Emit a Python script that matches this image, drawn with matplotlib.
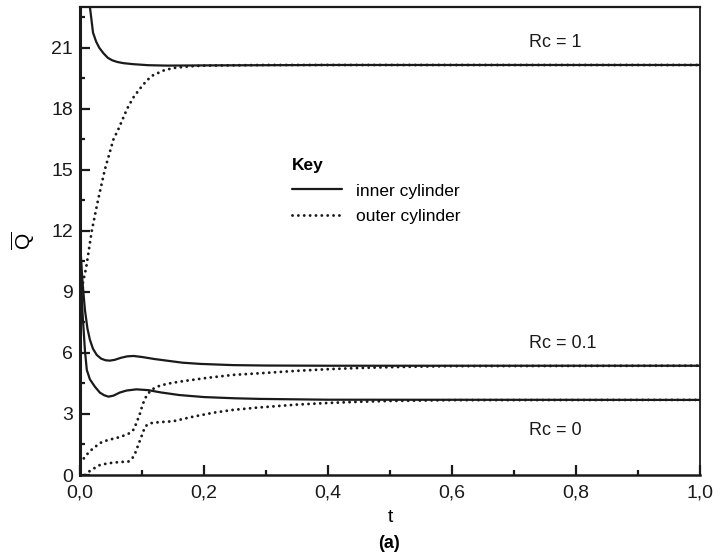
import matplotlib
matplotlib.use("Agg")
import matplotlib.pyplot as plt
from matplotlib.ticker import MultipleLocator, FuncFormatter

plt.rcParams['font.family'] = ['Liberation Sans', 'DejaVu Sans']
plt.rcParams['mathtext.fontset'] = 'custom'
plt.rcParams['mathtext.rm'] = 'Liberation Sans'

# Rc = 1
t_rc1_inner = [0.012, 0.016, 0.021, 0.026, 0.031, 0.038, 0.045, 0.052, 0.06, 0.07, 0.086, 0.11, 0.14, 0.2, 0.4, 1.0]
q_rc1_inner = [24.0, 23.0, 21.74, 21.3, 21.0, 20.72, 20.5, 20.38, 20.3, 20.24, 20.19, 20.14, 20.12, 20.13, 20.15, 20.15]
t_rc1_outer = [0.0, 0.005, 0.010, 0.019, 0.029, 0.040, 0.054, 0.062, 0.076, 0.086, 0.097, 0.108, 0.118, 0.135, 0.15, 0.175, 0.2, 0.3, 1.0]
q_rc1_outer = [8.6, 9.5, 10.2, 12.0, 13.5, 15.0, 16.5, 17.0, 18.0, 18.55, 19.0, 19.4, 19.65, 19.88, 20.0, 20.08, 20.12, 20.15, 20.15]

# Rc = 0.1
t_rc01_inner = [0.0, 0.004, 0.008, 0.012, 0.016, 0.021, 0.027, 0.034, 0.041, 0.048, 0.056, 0.066, 0.076, 0.086, 0.10, 0.12, 0.14, 0.165, 0.194, 0.247, 0.3, 0.4, 1.0]
q_rc01_inner = [11.5, 9.5, 8.1, 7.2, 6.64, 6.2, 5.9, 5.72, 5.64, 5.62, 5.66, 5.76, 5.83, 5.85, 5.8, 5.7, 5.62, 5.52, 5.46, 5.40, 5.38, 5.37, 5.37]
t_rc01_outer = [0.0, 0.003, 0.015, 0.032, 0.045, 0.059, 0.072, 0.081, 0.087, 0.091, 0.096, 0.1, 0.104, 0.108, 0.115, 0.124, 0.14, 0.161, 0.204, 0.247, 0.29, 0.35, 0.4, 0.45, 0.5, 0.55, 0.6, 1.0]
q_rc01_outer = [0.6, 0.7, 1.15, 1.57, 1.72, 1.82, 1.95, 2.07, 2.25, 2.56, 2.95, 3.36, 3.7, 3.93, 4.18, 4.34, 4.48, 4.59, 4.77, 4.92, 5.0, 5.12, 5.2, 5.26, 5.3, 5.33, 5.35, 5.37]

# Rc = 0
t_rc0_inner = [0.0, 0.004, 0.008, 0.011, 0.016, 0.024, 0.032, 0.039, 0.046, 0.054, 0.064, 0.075, 0.091, 0.11, 0.13, 0.16, 0.2, 0.25, 0.29, 0.4, 1.0]
q_rc0_inner = [11.0, 8.0, 6.1, 5.16, 4.7, 4.34, 4.05, 3.92, 3.85, 3.9, 4.05, 4.15, 4.21, 4.17, 4.06, 3.93, 3.83, 3.77, 3.74, 3.7, 3.69]
t_rc0_outer = [0.008, 0.015, 0.025, 0.032, 0.043, 0.054, 0.066, 0.078, 0.084, 0.089, 0.093, 0.097, 0.101, 0.105, 0.111, 0.118, 0.13, 0.15, 0.183, 0.215, 0.247, 0.285, 0.35, 0.4, 0.45, 0.5, 0.55, 0.6, 1.0]
q_rc0_outer = [0.0, 0.18, 0.37, 0.49, 0.56, 0.61, 0.64, 0.66, 0.8, 1.07, 1.4, 1.72, 2.05, 2.38, 2.52, 2.57, 2.6, 2.64, 2.87, 3.06, 3.2, 3.31, 3.46, 3.54, 3.6, 3.64, 3.66, 3.68, 3.69]

curve_labels = ['Rc = 1', 'Rc = 0.1', 'Rc = 0']
label_q = [21.25, 6.44, 2.21]
label_t = 0.724

fig = plt.figure(figsize=(7.22, 5.58), dpi=100)
ax = fig.add_axes([80 / 722, 1 - 475 / 558, 620 / 722, 468 / 558])

ink = '#1a1a1a'
solid = dict(color=ink, lw=1.6, solid_capstyle='round')
dotted = dict(color=ink, lw=2.1, linestyle=(0, (0.01, 2.0)), dash_capstyle='round')

ax.plot(t_rc1_inner, q_rc1_inner, label='inner cylinder', **solid)
ax.plot(t_rc1_outer, q_rc1_outer, label='outer cylinder', **dotted)
ax.plot(t_rc01_inner, q_rc01_inner, **solid)
ax.plot(t_rc01_outer, q_rc01_outer, **dotted)
ax.plot(t_rc0_inner, q_rc0_inner, **solid)
ax.plot(t_rc0_outer, q_rc0_outer, **dotted)

for txt, q in zip(curve_labels, label_q):
    ax.text(label_t, q, txt, fontsize=13, ha='left', va='center', color=ink)

ax.set_xlim(0, 1.0)
ax.set_ylim(0, 23)
ax.xaxis.set_major_locator(MultipleLocator(0.2))
ax.xaxis.set_minor_locator(MultipleLocator(0.1))
ax.yaxis.set_major_locator(MultipleLocator(3))
ax.yaxis.set_minor_locator(MultipleLocator(1.5))
ax.xaxis.set_major_formatter(FuncFormatter(lambda v, p: f'{v:.1f}'.replace('.', ',')))
ax.tick_params(which='both', direction='in', top=False, right=False, width=1.6, colors=ink, labelsize=14)
ax.tick_params(which='major', length=7)
ax.tick_params(which='minor', length=3.5)
ax.tick_params(axis='x', pad=7)
ax.tick_params(axis='y', pad=5)

for side, w in [('left', 2.2), ('bottom', 1.8), ('top', 1.6), ('right', 1.3)]:
    ax.spines[side].set_linewidth(w)
    ax.spines[side].set_color(ink)

ax.set_xlabel('t', fontsize=14, labelpad=5)
ax.set_ylabel(r'$\overline{\mathrm{Q}}$', fontsize=15, labelpad=10)

leg = ax.legend(loc='upper left', bbox_to_anchor=(276 / 722, 1 - 142 / 558), bbox_transform=fig.transFigure,
                frameon=False, fontsize=12.5, handlelength=2.9, handletextpad=0.8,
                labelspacing=0.62, title='Key', alignment='left')
leg.get_title().set_fontweight('bold')
leg.get_title().set_fontsize(12.5)

fig.text(389 / 722, 1 - 543 / 558, '(a)', fontsize=13, fontweight='bold', ha='center', va='center')

fig.savefig('out.png', dpi=100)
